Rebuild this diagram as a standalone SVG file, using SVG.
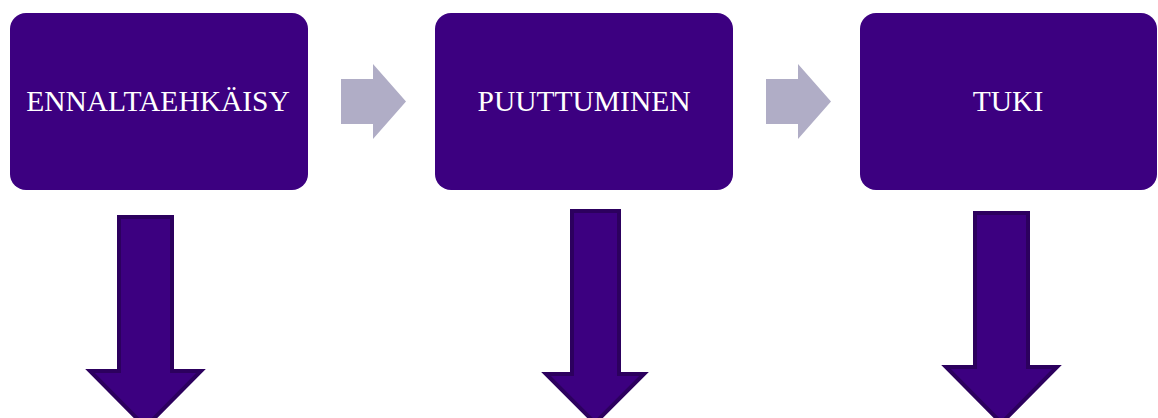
<svg xmlns="http://www.w3.org/2000/svg" width="1158" height="418" viewBox="0 0 1158 418">
<style>
.box{fill:#3c0080;}
.lbl{fill:#ffffff;font-family:"Liberation Serif","Times New Roman",serif;font-size:29.5px;text-anchor:middle;}
.ra{fill:#b0adc6;}
.da{fill:#3c0080;stroke:#2c005e;stroke-width:4;stroke-linejoin:miter;}
</style>
<rect width="1158" height="418" fill="#ffffff"/>
<g id="node1"><rect class="box" x="10" y="13" width="298" height="177" rx="16"/><text class="lbl" x="158" y="111">ENNALTAEHKÄISY</text></g>
<g id="node2"><rect class="box" x="435" y="13" width="298" height="177" rx="16"/><text class="lbl" x="584" y="111">PUUTTUMINEN</text></g>
<g id="node3"><rect class="box" x="860" y="13" width="297" height="177" rx="16"/><text class="lbl" x="1008" y="111">TUKI</text></g>
<g id="connectors">
<polygon class="ra" points="341,79 373,79 373,64 406,101.5 373,139 373,124 341,124"/>
<polygon class="ra" points="766,79 798,79 798,64 831,101.5 798,139 798,124 766,124"/>
<polygon class="da" points="119,217 172,217 172,371 201,371 145.5,427 90,371 119,371"/>
<polygon class="da" points="572,211 619,211 619,374 644,374 595,423 546,374 572,374"/>
<polygon class="da" points="975,213 1028,213 1028,367 1057,367 1001.5,423 946,367 975,367"/>
</g>
</svg>
